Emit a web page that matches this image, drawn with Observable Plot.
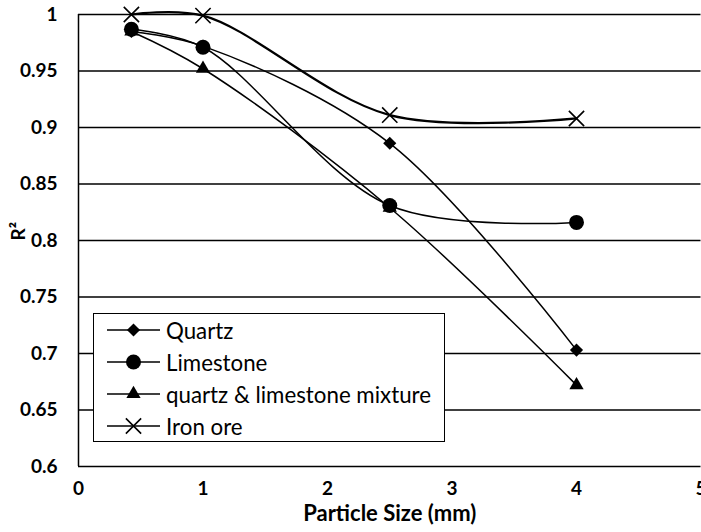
<!DOCTYPE html>
<html><head><meta charset="utf-8">
<script src="https://cdn.jsdelivr.net/npm/d3@7"></script>
<script src="https://cdn.jsdelivr.net/npm/@observablehq/plot@0.6"></script>
<style>
body{margin:0;background:#fff;}
#wrap{position:relative;width:701px;height:532px;overflow:hidden;font-family:Lato,"Open Sans",sans-serif;}
#legend{position:absolute;left:93px;top:313px;width:352px;height:129px;border:1.5px solid #000;background:#fff;box-sizing:border-box;padding-top:0px;}
.row{display:flex;align-items:center;height:32px;font-size:22.3px;color:#000;}
.row svg{margin-left:13px;margin-right:6px;}
</style></head>
<body>
<div id="wrap"></div>
<script>
const sizes = [0.425, 1, 2.5, 4];
const quartz = [0.985, 0.972, 0.886, 0.703];
const limestone = [0.987, 0.971, 0.831, 0.816];
const mixture = [0.985, 0.952, 0.829, 0.672];
const ironOre = [1.0, 0.999, 0.911, 0.908];
const seriesNames = ["Quartz", "Limestone", "quartz & limestone mixture", "Iron ore"];
const seriesValues = [quartz, limestone, mixture, ironOre];
const symbols = ["diamond2", "circle", "triangle", "times"];
const radii = [5.9, 7.5, 5.3, 7];
const yTicks = [0.6, 0.65, 0.7, 0.75, 0.8, 0.85, 0.9, 0.95, 1];
const xTicks = [0, 1, 2, 3, 4, 5];

const rows = seriesNames.flatMap((name, s) =>
  sizes.map((x, i) => ({series: name, s, x, y: seriesValues[s][i]})));

const marks = [
  Plot.ruleY(yTicks, {stroke: "#000", strokeWidth: 1.5}),
  Plot.ruleX([0], {stroke: "#000", strokeWidth: 1.5}),
];
seriesNames.forEach((name, s) => {
  const d = rows.filter(r => r.s === s);
  marks.push(Plot.line(d, {x: "x", y: "y", curve: "catmull-rom", stroke: "#000", strokeWidth: s === 3 ? 2.2 : 1.5}));
});
seriesNames.forEach((name, s) => {
  const d = rows.filter(r => r.s === s);
  const isTimes = symbols[s] === "times";
  marks.push(Plot.dot(d, {x: "x", y: "y", symbol: () => symbols[s], r: radii[s],
    fill: isTimes ? "none" : "#000", stroke: "#000", strokeWidth: isTimes ? 1.6 : 0}));
});
marks.push(
  Plot.axisY({ticks: yTicks, tickSize: 0, tickPadding: 21, fontSize: 19, fontWeight: "bold", label: null, tickFormat: d3.format("")}),
  Plot.axisX({ticks: xTicks, tickSize: 0, tickPadding: 15, fontSize: 19, fontWeight: "bold", label: null, tickFormat: d3.format("d")}),
  Plot.text(["R²"], {frameAnchor: "left", dx: -60, rotate: -90, fontSize: 19, fontWeight: "bold", fill: "#000"}),
  Plot.text(["Particle Size (mm)"], {frameAnchor: "bottom", dy: 47, lineAnchor: "middle", fontSize: 22, fontWeight: "bold", fill: "#000"})
);

const chart = Plot.plot({
  width: 701, height: 532,
  marginLeft: 78, marginRight: 0.5, marginTop: 14, marginBottom: 66,
  x: {domain: [0, 5]},
  y: {domain: [0.6, 1]},
  symbol: {type: "identity"},
  style: {fontFamily: "Lato, 'Open Sans', sans-serif", color: "#000", background: "#fff", overflow: "visible"},
  marks
});
const wrap = document.getElementById("wrap");
wrap.appendChild(chart);

// legend
const legend = document.createElement("div");
legend.id = "legend";
const symMap = {diamond2: d3.symbolDiamond2, circle: d3.symbolCircle, triangle: d3.symbolTriangle, times: d3.symbolTimes};
seriesNames.forEach((name, s) => {
  const row = document.createElement("div");
  row.className = "row";
  const r = radii[s];
  const path = d3.symbol(symMap[symbols[s]], r * r * Math.PI)();
  const isTimes = symbols[s] === "times";
  row.innerHTML = `<svg width="53" height="20" viewBox="0 0 53 20"><line x1="0" x2="53" y1="10" y2="10" stroke="#000" stroke-width="1.5"/><path transform="translate(26.5,10)" d="${path}" fill="${isTimes ? "none" : "#000"}" stroke="#000" stroke-width="${isTimes ? 1.6 : 0}"/></svg><span>${name}</span>`;
  legend.appendChild(row);
});
wrap.appendChild(legend);
</script>
</body></html>
